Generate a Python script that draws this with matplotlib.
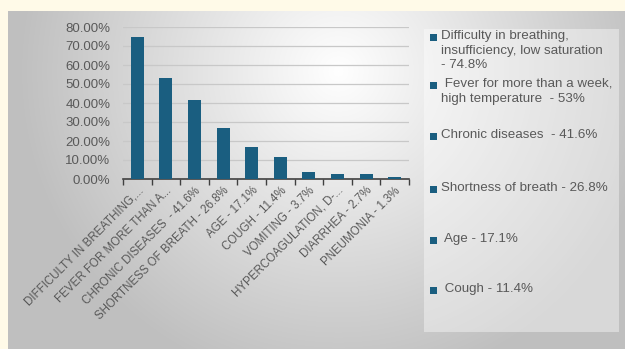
import numpy as np
import matplotlib
matplotlib.use('Agg')
import matplotlib.pyplot as plt
from matplotlib.patches import Rectangle

plt.rcParams['font.family'] = ['Liberation Sans', 'DejaVu Sans']

# Dữ liệu
categories = ['DIFFICULTY IN BREATHING,...', 'FEVER FOR MORE THAN A...',
              'CHRONIC DISEASES  - 41.6%', 'SHORTNESS OF BREATH - 26.8%',
              'AGE - 17.1%', 'COUGH - 11.4%', 'VOMITING - 3.7%',
              'HYPERCOAGULATION, D-...', 'DIARRHEA - 2.7%', 'PNEUMONIA - 1.3%']
values = [0.748, 0.53, 0.416, 0.268, 0.171, 0.114, 0.037, 0.027, 0.027, 0.013]
yticks = [0.0, 0.1, 0.2, 0.3, 0.4, 0.5, 0.6, 0.7, 0.8]
legend_labels = ['Difficulty in breathing,\ninsufficiency, low saturation\n- 74.8%',
                 ' Fever for more than a week,\nhigh temperature  - 53%',
                 'Chronic diseases  - 41.6%',
                 'Shortness of breath - 26.8%',
                 ' Age - 17.1%',
                 ' Cough - 11.4%']

bar_color = '#1A5E80'
text_color = '#595959'
W, H = 625, 349

fig = plt.figure(figsize=(W / 100, H / 100), dpi=100)
fig.patch.set_facecolor('#FFFAE8')

# Nền gradient của biểu đồ
bg = fig.add_axes([8 / W, 0, (W - 8) / W, (H - 11) / H], zorder=0)
gx, gy = np.meshgrid(np.arange(W - 8), np.arange(H - 11))
dist = np.sqrt((gx - 330) ** 2 + (gy - 60) ** 2)
shade = 1.0 - 0.25 * np.clip(dist / 320, 0, 1)
bg.imshow(np.dstack([shade] * 3), aspect='auto', extent=[0, 1, 0, 1], origin='upper')
bg.axis('off')

# Vùng vẽ cột
ax = fig.add_axes([123 / W, 1 - 179 / H, 286 / W, 152 / H], zorder=2)
ax.patch.set_alpha(0)
x = np.arange(len(categories))
ax.bar(x, values, width=0.45, color=bar_color, zorder=3)
ax.set_xlim(-0.5, len(categories) - 0.5)
ax.set_ylim(0, 0.8)
ax.set_yticks(yticks)
ax.set_yticklabels(['%.2f%%' % (v * 100) for v in yticks], color=text_color, fontsize=9.5)
ax.yaxis.grid(True, color='#C8C8C8', linewidth=0.9, zorder=1)
ax.tick_params(axis='y', length=0, pad=9)
ax.set_xticks(np.arange(len(categories) + 1) - 0.5, minor=True)
ax.set_xticks(x)
ax.set_xticklabels(categories, rotation=45, ha='right', rotation_mode='anchor',
                   color=text_color, fontsize=8.3)
ax.tick_params(axis='x', which='major', length=0, pad=4)
ax.tick_params(axis='x', which='minor', length=4, color='#404040', width=1, direction='out')
for side in ['top', 'right', 'left']:
    ax.spines[side].set_visible(False)
ax.spines['bottom'].set_color('#404040')
ax.spines['bottom'].set_linewidth(1.2)

# Chú thích
leg = fig.add_axes([0, 0, 1, 1], zorder=3)
leg.set_xlim(0, W)
leg.set_ylim(H, 0)
leg.axis('off')
leg.patch.set_alpha(0)
leg.add_patch(Rectangle((424, 29), 195, 303, facecolor='white', alpha=0.4, edgecolor='none'))
entry_y = [37, 85, 136, 189, 240, 290]
for lab, yy in zip(legend_labels, entry_y):
    leg.add_patch(Rectangle((430, yy - 3.5), 7, 7, facecolor=bar_color, edgecolor='none'))
    leg.text(441, yy - 7, lab, va='top', ha='left', color=text_color, fontsize=9.6,
             linespacing=1.3)

plt.savefig('out.png', dpi=100, facecolor=fig.get_facecolor())
